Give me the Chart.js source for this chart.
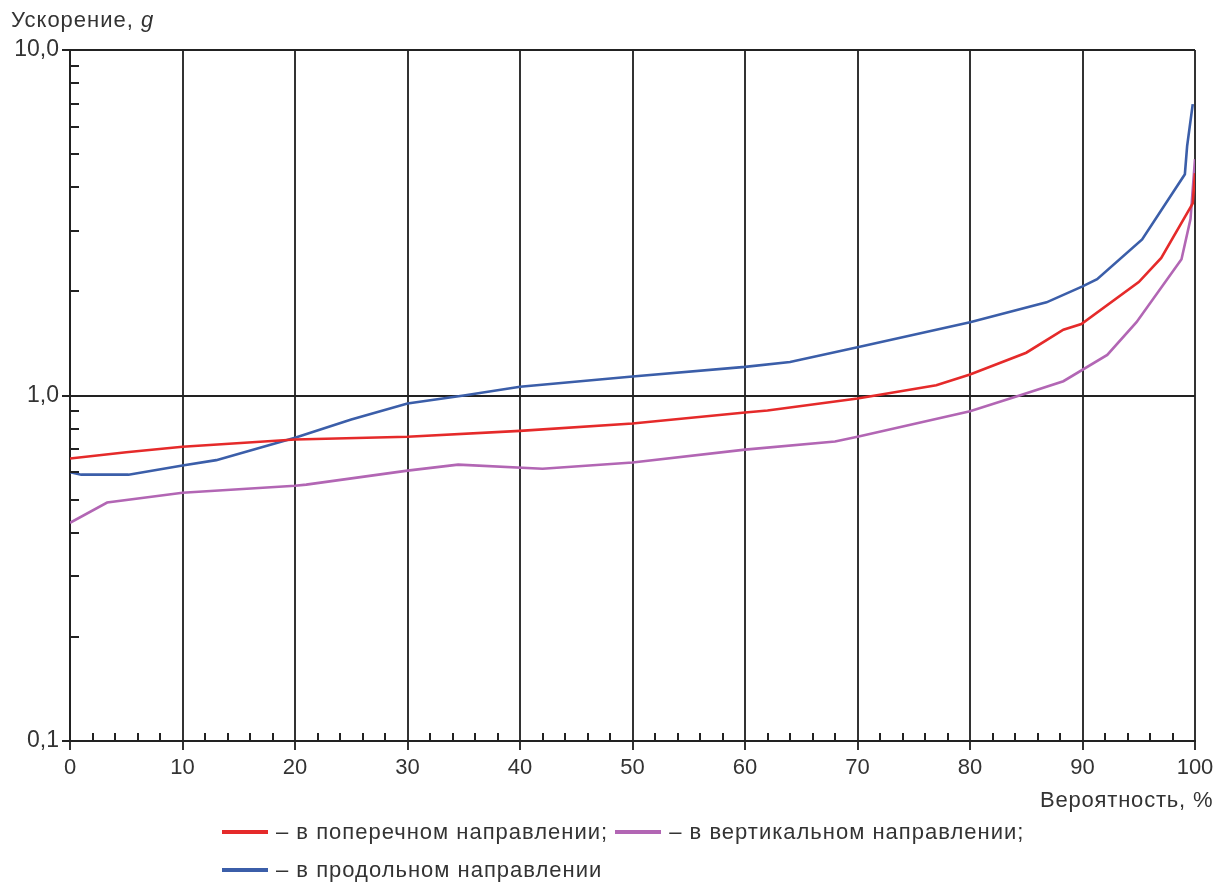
<!DOCTYPE html>
<html>
<head>
<meta charset="utf-8">
<script src="https://cdn.jsdelivr.net/npm/chart.js@4"></script>
<style>
  body { margin: 0; background: #fff; font-family: "Liberation Sans", Arial, sans-serif; color: #333; }
  #wrap { position: relative; width: 1225px; height: 888px; overflow: hidden; }
  canvas { position: absolute; left: 0; top: 0; }
  .txt { position: absolute; font-size: 22px; letter-spacing: 1px; white-space: nowrap; color: #333; }
  .sw { display: inline-block; width: 46px; height: 4px; vertical-align: middle; margin-right: 8px; position: relative; top: -1px; }
</style>
</head>
<body>
<div id="wrap">
  <canvas id="chart" width="1225" height="888"></canvas>
  <div class="txt" style="left:11px; top:7px;">Ускорение, <i>g</i></div>
  <div class="txt" style="left:1040px; top:787px; letter-spacing:0.8px;">Вероятность, %</div>
  <div class="txt" style="left:222px; top:819px;"><span class="sw" style="background:#e52a2a"></span>– в поперечном направлении; <span class="sw" style="background:#b266b4"></span>– в вертикальном направлении;</div>
  <div class="txt" style="left:222px; top:857px;"><span class="sw" style="background:#3b5ea9"></span>– в продольном направлении</div>
</div>
<script>
// Probability, % (x) and acceleration, g (y)
const redX = [0, 5, 10, 20, 30, 40, 50, 60, 62, 70, 77, 80, 85, 88.3, 89.9, 95, 97, 99.8, 100];
const redY = [0.657, 0.685, 0.711, 0.746, 0.76, 0.79, 0.83, 0.893, 0.905, 0.98, 1.07, 1.15, 1.33, 1.55, 1.61, 2.13, 2.5, 3.6, 4.4];

const purpleX = [0, 3.3, 10, 20, 21, 30, 34.5, 42, 50, 60, 68, 70, 80, 84.4, 88.3, 92.2, 94.8, 98.8, 99.6, 100];
const purpleY = [0.428, 0.49, 0.523, 0.548, 0.552, 0.606, 0.631, 0.614, 0.64, 0.697, 0.736, 0.76, 0.9, 1.0, 1.1, 1.31, 1.63, 2.48, 3.24, 4.83];

const blueX = [0, 1, 5.2, 10, 13, 20, 25, 30, 35, 40, 50, 60, 64, 70, 80, 86.8, 90, 91.3, 95.3, 99.1, 99.3, 99.8];
const blueY = [0.6, 0.59, 0.59, 0.627, 0.65, 0.755, 0.852, 0.948, 1.0, 1.06, 1.135, 1.21, 1.25, 1.38, 1.63, 1.86, 2.07, 2.17, 2.83, 4.37, 5.27, 6.97];

const xMajor = [0, 10, 20, 30, 40, 50, 60, 70, 80, 90, 100];
const yMajor = [0.1, 1, 10];
const yLabels = {0.1: "0,1", 1: "1,0", 10: "10,0"};

function pts(xs, ys) { return xs.map((x, i) => ({x: x, y: ys[i]})); }

// minor tick marks drawn inside the plot
const minorTicks = {
  id: "minorTicks",
  afterDraw(chart) {
    const ctx = chart.ctx, xs = chart.scales.x, ys = chart.scales.y;
    const area = chart.chartArea;
    ctx.save();
    ctx.strokeStyle = "#222";
    ctx.lineWidth = 2;
    ctx.beginPath();
    for (let v = 2; v < 100; v += 2) {
      if (v % 10 === 0) continue;
      const px = Math.round(xs.getPixelForValue(v));
      ctx.moveTo(px, area.bottom);
      ctx.lineTo(px, area.bottom - 8);
    }
    [0.1, 1].forEach(d => {
      for (let m = 2; m <= 9; m++) {
        const py = Math.round(ys.getPixelForValue(d * m));
        ctx.moveTo(area.left, py);
        ctx.lineTo(area.left + 9, py);
      }
    });
    ctx.stroke();
    ctx.restore();
  }
};

new Chart(document.getElementById("chart"), {
  type: "line",
  data: {
    datasets: [
      {label: "в поперечном направлении", data: pts(redX, redY), borderColor: "#e52a2a"},
      {label: "в вертикальном направлении", data: pts(purpleX, purpleY), borderColor: "#b266b4"},
      {label: "в продольном направлении", data: pts(blueX, blueY), borderColor: "#3b5ea9"}
    ]
  },
  options: {
    responsive: false,
    animation: false,
    layout: {padding: {top: 50, right: 30, bottom: 107, left: 0}},
    elements: {
      point: {radius: 0},
      line: {borderWidth: 2.6, tension: 0}
    },
    plugins: {legend: {display: false}, tooltip: {enabled: false}},
    scales: {
      x: {
        type: "linear", min: 0, max: 100,
        afterBuildTicks: s => { s.ticks = xMajor.map(v => ({value: v})); },
        afterFit: s => { s.height = 40; },
        grid: {color: "#333", lineWidth: 2, tickLength: 9, drawOnChartArea: true},
        border: {color: "#222", width: 2},
        ticks: {color: "#333", font: {family: "Liberation Sans", size: 22}, padding: 5, maxRotation: 0}
      },
      y: {
        type: "logarithmic", min: 0.1, max: 10,
        afterBuildTicks: s => { s.ticks = yMajor.map(v => ({value: v})); },
        afterFit: s => { s.width = 70; },
        grid: {color: "#222", lineWidth: 2, tickLength: 8},
        border: {color: "#222", width: 2},
        ticks: {color: "#333", font: {family: "Liberation Sans", size: 23}, padding: 3,
          callback: v => yLabels[v] || ""}
      }
    }
  },
  plugins: [minorTicks]
});
</script>
</body>
</html>
